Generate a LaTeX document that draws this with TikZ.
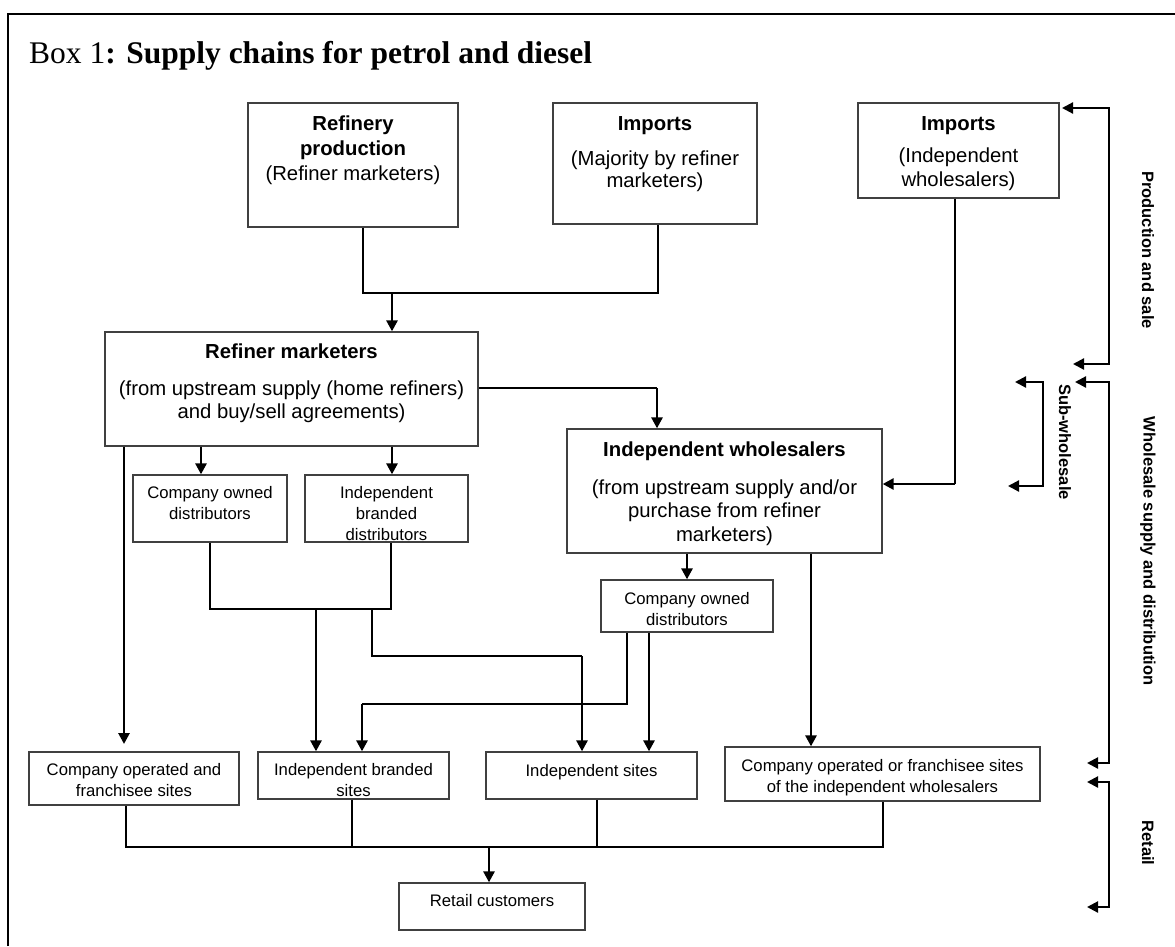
\documentclass[tikz,border=0pt]{standalone}
\usepackage{fontspec}
\setmainfont{Liberation Serif}
\newfontfamily\arial{Liberation Sans}
\usetikzlibrary{arrows.meta,fit}
\tikzset{
  box/.style={draw=black!75, line width=1.3pt, inner sep=0pt},
  thinln/.style={line width=1.1pt},
  tip/.tip={Triangle[length=11pt,width=11pt]},
  thk/.style={line width=2.7pt, -tip},
  brk/.style={line width=2.2pt, tip-tip},
  big/.style={font=\arial\fontsize{20.3}{23.5}\selectfont, align=center, inner sep=0pt, anchor=north},
  small/.style={font=\arial\fontsize{16.7}{21}\selectfont, align=center, inner sep=0pt, anchor=north},
  lab/.style={font=\arial\bfseries\fontsize{16.5}{20}\selectfont, rotate=-90, inner sep=0pt},
}
\begin{document}
\begin{tikzpicture}[x=1pt,y=-1pt]
\useasboundingbox (0,0) rectangle (1175,946);
% frame
\coordinate (fr1) at (8,946);
\coordinate (fr2) at (8,14);
\coordinate (fr3) at (1175,14);
\draw[line width=2.4pt] (fr1) -- (fr2) -- (fr3);
% title
\node[anchor=base west, inner sep=0pt, font=\fontsize{31.5}{36}\selectfont] (title) at (29,63) {Box 1\textbf{: Supply chains for petrol and diesel}};

% boxes
\node[box, fit={(248,103) (458,227)}] (refB) {};
\node[box, fit={(553,103) (757,224)}] (impM) {};
\node[box, fit={(858,103) (1059,198)}] (impR) {};
\node[box, fit={(105,332) (478,446)}] (rm) {};
\node[box, fit={(567,429) (882,553)}] (iw) {};
\node[box, fit={(133,475) (287,542)}] (codL) {};
\node[box, fit={(305,475) (468,542)}] (ibd) {};
\node[box, fit={(601,580) (773,632)}] (codR) {};
\node[box, fit={(29,752) (239,805)}] (cof) {};
\node[box, fit={(258,752) (449,799)}] (ibs) {};
\node[box, fit={(486,752) (697,799)}] (is) {};
\node[box, fit={(725,747) (1040,801)}] (cows) {};
\node[box, fit={(399,883) (585,930)}] (rc) {};

% texts
\node[big] (refBT) at (353,116) {\textbf{Refinery}\\[1pt]\textbf{production}\\[2pt](Refiner marketers)};
\node[big] (impMT) at (655,116) {\textbf{Imports}\\[12pt](Majority by refiner\\[-2pt]marketers)};
\node[big] (impRT) at (958.5,116) {\textbf{Imports}\\[9pt](Independent\\wholesalers)};
\node[big] (rmT) at (291.5,344) {\textbf{Refiner marketers}\\[13pt](from upstream supply (home refiners)\\and buy/sell agreements)};
\node[big] (iwT) at (724.5,442) {\textbf{Independent wholesalers}\\[14pt](from upstream supply and/or\\purchase from refiner\\marketers)};
\node[small] (codLT) at (210,486) {Company owned\\distributors};
\node[small] (ibdT) at (386.5,486) {Independent\\branded\\distributors};
\node[small] (codRT) at (687,592) {Company owned\\distributors};
\node[small] (cofT) at (134,763) {Company operated and\\franchisee sites};
\node[small] (ibsT) at (353.5,763) {Independent branded\\sites};
\node[small] (isT) at (591.5,764) {Independent sites};
\node[small] (cowsT) at (882.5,759) {Company operated or franchisee sites\\of the independent wholesalers};
\node[small] (rcT) at (492,894) {Retail customers};

% connector coordinates
\coordinate (j1) at (363,293);
\coordinate (j1b) at (658,293);
\coordinate (jA) at (392,293);
\coordinate (jR) at (955,484);
\coordinate (jW) at (657,388);
\coordinate (p0) at (124,744);
\coordinate (p1) at (201,460);
\coordinate (p2) at (392,460);
\coordinate (jD1) at (210,609);
\coordinate (jD2) at (391,609);
\coordinate (jD3) at (316,609);
\coordinate (jD4) at (372,609);
\coordinate (jD5) at (372,656);
\coordinate (jD6) at (582,656);
\coordinate (jC1) at (627,704);
\coordinate (jC2) at (362,704);
\coordinate (xC3) at (649,700);
\coordinate (xW) at (811,600);
\coordinate (jB1) at (126,847);
\coordinate (jB2) at (352,847);
\coordinate (jB3) at (597,847);
\coordinate (jB4) at (883,847);
\coordinate (jB) at (489,847);

% connectors
\draw[thinln] (refB.south -| j1) -- (j1) -- (j1b) -- (impM.south -| j1b);
\draw[thk] (jA) -- (rm.north -| jA);
\draw[thinln] (impR.south -| jR) -- (jR);
\draw[thk] (jR) -- (iw.east |- jR);
\draw[thinln] (rm.east |- jW) -- (jW);
\draw[thk] (jW) -- (iw.north -| jW);
\draw[thk] (rm.south -| p0) -- (p0);
\draw[thk] (rm.south -| p1) -- (codL.north -| p1);
\draw[thk] (rm.south -| p2) -- (ibd.north -| p2);
\draw[thinln] (codL.south -| jD1) -- (jD1) -- (jD2) -- (ibd.south -| jD2);
\draw[thk] (jD3) -- (ibs.north -| jD3);
\draw[thinln] (jD4) -- (jD5) -- (jD6);
\draw[thk] (jD6) -- (is.north -| jD6);
\draw[thk] (iw.south -| codR.north) -- (codR.north);
\draw[thinln] (codR.south -| jC1) -- (jC1) -- (jC2);
\draw[thk] (jC2) -- (ibs.north -| jC2);
\draw[thk] (codR.south -| xC3) -- (is.north -| xC3);
\draw[thk] (iw.south -| xW) -- (cows.north -| xW);
\draw[thinln] (cof.south -| jB1) -- (jB1) -- (jB4) -- (cows.south -| jB4);
\draw[thinln] (ibs.south -| jB2) -- (jB2);
\draw[thinln] (is.south -| jB3) -- (jB3);
\draw[thk] (jB) -- (rc.north -| jB);

% right-hand brackets
\coordinate (b1a) at (1062,108);
\coordinate (b1t) at (1109,108);
\coordinate (b1b) at (1109,364);
\coordinate (b1e) at (1073,364);
\draw[brk] (b1a) -- (b1t) -- (b1b) -- (b1e);
\coordinate (b2a) at (1075,382);
\coordinate (b2t) at (1109,382);
\coordinate (b2b) at (1109,763);
\coordinate (b2e) at (1087,763);
\draw[brk] (b2a) -- (b2t) -- (b2b) -- (b2e);
\coordinate (b3a) at (1015,382);
\coordinate (b3t) at (1043,382);
\coordinate (b3b) at (1043,486);
\coordinate (b3e) at (1008,486);
\draw[brk] (b3a) -- (b3t) -- (b3b) -- (b3e);
\coordinate (b4a) at (1087,782);
\coordinate (b4t) at (1109,782);
\coordinate (b4b) at (1109,907);
\coordinate (b4e) at (1087,907);
\draw[brk] (b4a) -- (b4t) -- (b4b) -- (b4e);

\node[lab] (l1) at (1148,250) {Production and sale};
\node[lab] (l2) at (1148,551) {Wholesale supply and distribution};
\node[lab] (l3) at (1065,442) {Sub-wholesale};
\node[lab] (l4) at (1148,843) {Retail};
\end{tikzpicture}
\end{document}
